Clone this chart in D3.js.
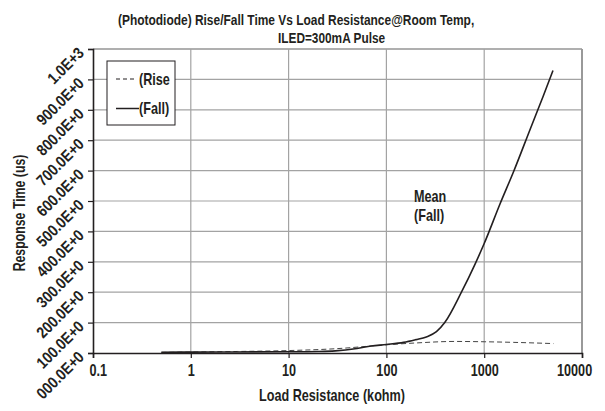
<!DOCTYPE html>
<html>
<head>
<meta charset="utf-8">
<script src="https://cdn.jsdelivr.net/npm/d3@7"></script>
<style>
  body { margin: 0; background: #fff; }
  text { font-family: "Liberation Sans", Arial, sans-serif; font-weight: bold; fill: #231f20; }
</style>
</head>
<body>
<script>
// data
const riseR = [0.5, 1, 3, 10, 30, 100, 200, 500, 1000, 2000, 5100]
const riseT = [2, 3, 5, 8, 14, 27, 33, 38, 37, 35, 31]
const fallR = [0.5, 1, 3, 10, 20, 30, 50, 70, 100, 150, 200, 256, 325, 395, 585, 800, 1000, 1450, 2000, 3000, 4000, 5050]
const fallT = [2, 3, 3.5, 4, 5, 7, 15, 23, 28, 35, 44, 53, 70, 100, 200, 290, 360, 490, 597, 742, 844, 929]
const xTicks = [0.1, 1, 10, 100, 1000, 10000]
const yTicks = [0, 100, 200, 300, 400, 500, 600, 700, 800, 900, 1000]
const yLabels = ['000.0E+0', '100.0E+0', '200.0E+0', '300.0E+0', '400.0E+0', '500.0E+0',
                 '600.0E+0', '700.0E+0', '800.0E+0', '900.0E+0', '1.0E+3']

const w = 605
const h = 411
const pLeft = 93, pRight = 582, pTop = 49, pBottom = 353
const sx = 0.79  // squeeze the font to look condensed

const svg = d3.select('body').append('svg')
  .attr('width', w)
  .attr('height', h)

// text helper
function label(x, y, str, size, anchor, rot, scale) {
  return svg.append('text')
    .attr('transform', 'translate(' + x + ',' + y + ')' + (rot ? ' rotate(' + rot + ')' : '') + ' scale(' + (scale || sx) + ',1)')
    .attr('text-anchor', anchor || 'start')
    .style('font-size', size + 'px')
    .text(str)
}

const x = d3.scaleLog().domain([0.1, 10000]).range([pLeft, pRight])
const y = d3.scaleLinear().domain([0, 1000]).range([pBottom, pTop])

//Grid
svg.append('g').selectAll('line').data(yTicks.slice(1))
  .enter().append('line')
  .attr('x1', pLeft).attr('x2', pRight)
  .attr('y1', d => y(d)).attr('y2', d => y(d))
  .attr('stroke', '#a3a3a3').attr('stroke-width', 1.2)

svg.append('g').selectAll('line').data(xTicks.slice(1))
  .enter().append('line')
  .attr('x1', d => x(d)).attr('x2', d => x(d))
  .attr('y1', pTop).attr('y2', pBottom)
  .attr('stroke', '#a3a3a3').attr('stroke-width', 1.2)

//Border
svg.append('line').attr('x1', pLeft).attr('x2', pRight).attr('y1', pTop).attr('y2', pTop)
  .attr('stroke', '#a3a3a3').attr('stroke-width', 1.5)
svg.append('line').attr('x1', pRight).attr('x2', pRight).attr('y1', pTop).attr('y2', pBottom)
  .attr('stroke', '#999').attr('stroke-width', 2)

//Axes
const xAxis = d3.axisBottom(x).tickValues(xTicks).tickFormat(d3.format('')).tickSize(5)
const yAxis = d3.axisLeft(y).tickValues(yTicks).tickFormat('').tickSize(5)

const gx = svg.append('g')
  .attr('transform', 'translate(0,' + pBottom + ')')
  .call(xAxis)
gx.select('.domain').attr('stroke', '#231f20').attr('stroke-width', 1.6)
gx.selectAll('.tick line').attr('stroke', '#231f20').attr('stroke-width', 1.2)
gx.selectAll('.tick text')
  .attr('y', 23)
  .attr('dy', 0)
  .attr('x', d => d === 0.1 ? 6 : (d === 10000 ? -10 : 0))
  .attr('transform', 'scale(' + sx + ',1)')
  .attr('fill', '#231f20')
  .style('font-family', '"Liberation Sans", Arial, sans-serif')
  .style('font-weight', 'bold')
  .style('font-size', '16px')

const gy = svg.append('g')
  .attr('transform', 'translate(' + pLeft + ',0)')
  .call(yAxis)
gy.select('.domain').attr('stroke', '#231f20').attr('stroke-width', 1.6)
gy.selectAll('.tick line').attr('stroke', '#231f20').attr('stroke-width', 1.2)

yTicks.forEach((d, i) => label(pLeft - 8, y(d) + 5, yLabels[i], 16, 'end', -45, 0.86))

//Lines
const line = d3.line()
  .x(d => x(d[0]))
  .y(d => y(d[1]))
  .curve(d3.curveMonotoneX)

svg.append('path')
  .datum(riseR.map((r, i) => [r, riseT[i]]))
  .attr('d', line)
  .attr('fill', 'none')
  .attr('stroke', '#444')
  .attr('stroke-width', 1)
  .attr('stroke-dasharray', '5,3')

svg.append('path')
  .datum(fallR.map((r, i) => [r, fallT[i]]))
  .attr('d', line)
  .attr('fill', 'none')
  .attr('stroke', '#231f20')
  .attr('stroke-width', 1.6)

//Legend
svg.append('rect')
  .attr('x', 107).attr('y', 61).attr('width', 68).attr('height', 64)
  .attr('fill', '#fff').attr('stroke', '#231f20').attr('stroke-width', 1)
svg.append('line').attr('x1', 116).attr('x2', 136).attr('y1', 79).attr('y2', 79)
  .attr('stroke', '#231f20').attr('stroke-dasharray', '4,3')
svg.append('line').attr('x1', 116).attr('x2', 139).attr('y1', 108.5).attr('y2', 108.5)
  .attr('stroke', '#231f20').attr('stroke-width', 1.5)
label(139, 85, '(Rise', 16)
label(139, 114, '(Fall)', 16)

//Annotation
label(414, 202, 'Mean', 16)
label(414, 221, '(Fall)', 16)

//Titles
label(118, 25, '(Photodiode) Rise/Fall Time Vs Load Resistance@Room Temp,', 15, 'start', 0, 0.797)
label(278, 43, 'ILED=300mA Pulse', 15, 'start', 0, 0.79)
label(332, 401, 'Load Resistance (kohm)', 16, 'middle')
label(25, 213, 'Response Time (us)', 16, 'middle', -90, 0.77)
</script>
</body>
</html>
